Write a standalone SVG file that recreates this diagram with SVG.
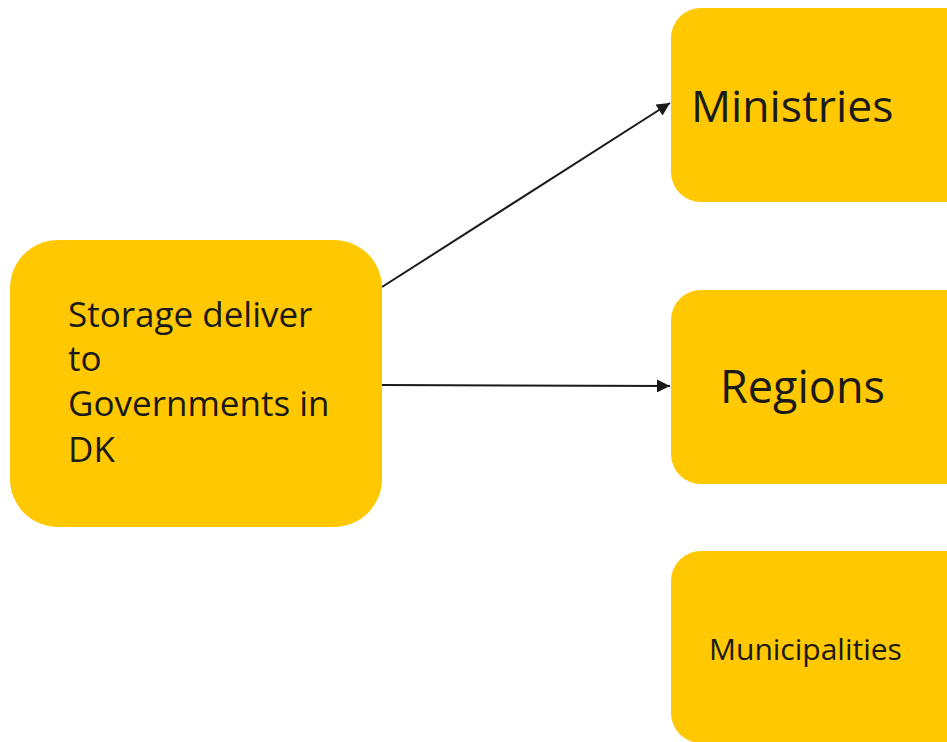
<svg xmlns="http://www.w3.org/2000/svg" width="947" height="742" viewBox="0 0 947 742">
<style>
.box{fill:#FFC800;}
.t{font-family:"Open Sans","Noto Sans","Liberation Sans",sans-serif;fill:#1a1a1a;}
.c{stroke:#1a1a1a;stroke-width:2;fill:none;}
</style>
<defs>
<marker id="ah" viewBox="0 0 10 10" refX="10" refY="5" markerWidth="15" markerHeight="13" markerUnits="userSpaceOnUse" orient="auto">
<path d="M0,0 L10,5 L0,10 z" fill="#1a1a1a"/>
</marker>
</defs>
<rect width="947" height="742" fill="#ffffff"/>
<g id="connectors">
<line class="c" x1="382" y1="287" x2="670" y2="103" marker-end="url(#ah)"/>
<line class="c" x1="382" y1="385" x2="670" y2="386" marker-end="url(#ah)"/>
</g>
<g id="storage">
<rect class="box" x="10" y="240" width="372" height="287" rx="48" ry="48"/>
<text class="t" font-size="35" x="68" y="327">Storage deliver</text>
<text class="t" font-size="35" x="68" y="371">to</text>
<text class="t" font-size="35" x="68" y="416">Governments in</text>
<text class="t" font-size="35" x="68" y="462">DK</text>
</g>
<g id="ministries">
<rect class="box" x="671" y="8" width="310" height="194" rx="30" ry="30"/>
<text class="t" font-size="44.5" x="691" y="122">Ministries</text>
</g>
<g id="regions">
<rect class="box" x="671" y="290" width="310" height="194" rx="30" ry="30"/>
<text class="t" font-size="45" x="720" y="403">Regions</text>
</g>
<g id="municipalities">
<rect class="box" x="671" y="551" width="310" height="192" rx="30" ry="30"/>
<text class="t" font-size="30" x="709" y="660">Municipalities</text>
</g>
</svg>
